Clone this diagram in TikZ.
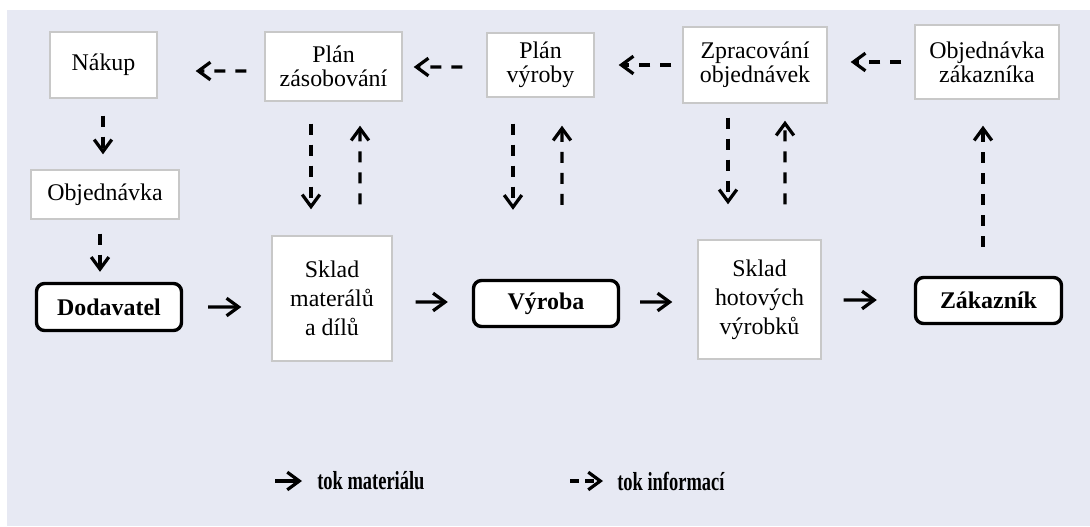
\documentclass[tikz,border=0pt]{standalone}
\usepackage{fontspec}
\setmainfont{Liberation Serif}
\newfontfamily\legendfont{Liberation Serif}[FakeStretch=0.71]
\usetikzlibrary{arrows.meta}
\definecolor{pagebg}{HTML}{E7E9F3}
\definecolor{boxline}{HTML}{C8C8C8}
\newlength\px
\setlength\px{0.025cm}

\begin{document}
\begin{tikzpicture}[
  x=0.025cm, y=-0.025cm,
  plan/.style={draw=boxline, line width=1pt, fill=white, align=center, inner sep=0pt, font=\fontsize{17}{17}\selectfont},
  stock/.style={plan, font=\fontsize{17}{20.5}\selectfont},
  party/.style={draw=black, line width=2.4pt, rounded corners=0.2cm, fill=white, inner sep=0pt, font=\fontsize{17}{17}\selectfont\bfseries},
  mat/.style={-{Straight Barb[length=3mm,width=4.4mm]}, line width=2.3pt},
  info/.style={mat, dash pattern=on 0.275cm off 0.25cm},
  legend/.style={anchor=west, inner sep=0pt, font=\fontsize{18.5}{18.5}\legendfont\bfseries},
]
% page
\fill[white] (0,0) rectangle (1090,526);
\fill[pagebg] (7,10) rectangle (1090,526);

% planning row
\node[plan, minimum width=107\px, minimum height=66\px] (nakup) at (103.5,65) {Nákup};
\node[plan, minimum width=137\px, minimum height=69\px] (zas) at (333.5,66.5) {Plán\\zásobování};
\node[plan, minimum width=107\px, minimum height=64\px] (vyroby) at (540.5,65) {Plán\\výroby};
\node[plan, minimum width=144\px, minimum height=76\px] (zprac) at (755,65) {Zpracování\\objednávek};
\node[plan, minimum width=144\px, minimum height=74\px] (objzak) at (987,62) {Objednávka\\zákazníka};
\node[plan, minimum width=148\px, minimum height=49\px] (objed) at (105,194.5) {Objednávka};

% material row
\node[party, minimum width=145\px, minimum height=47\px] (dodav) at (109,307) {Dodavatel};
\node[stock, minimum width=120\px, minimum height=125\px] (skladmat) at (332,298.5) {Sklad\\materálů\\a dílů};
\node[party, minimum width=145\px, minimum height=46\px] (vyroba) at (546,303.5) {Výroba};
\node[stock, minimum width=123\px, minimum height=119\px] (skladhot) at (759.5,299.5) {Sklad\\hotových\\výrobků};
\node[party, minimum width=146\px, minimum height=46\px] (zakaz) at (988.5,300.5) {Zákazník};

% information flow
\draw[info, shorten <=18\px, shorten >=38\px] ([yshift=-4.5\px]zas.west) -- ([yshift=-6\px]nakup.east);
\draw[info, shorten <=24\px, shorten >=11\px] ([yshift=-2\px]vyroby.west) -- ([yshift=-0.5\px]zas.east);
\draw[info, shorten <=11\px, shorten >=24\px] (zprac.west) -- (vyroby.east);
\draw[info, shorten <=13\px, shorten >=23\px] (objzak.west) -- ([yshift=3\px]zprac.east);
\draw[info, shorten <=17\px, shorten >=15\px] ([xshift=-0.5\px]nakup.south) -- ([xshift=-2\px]objed.north);
\draw[info, shorten <=14\px, shorten >=10\px] ([xshift=-5\px]objed.south) -- ([xshift=-9\px]dodav.north);
\draw[info, shorten <=22\px, shorten >=26\px] ([xshift=-22.5\px]zas.south) -- ([xshift=-21\px]skladmat.north);
\draw[info, shorten <=31\px, shorten >=24\px] ([xshift=28\px]skladmat.north) -- ([xshift=26.5\px]zas.south);
\draw[info, shorten <=26\px, shorten >=69\px] ([xshift=-27.5\px]vyroby.south) -- ([xshift=-33\px]vyroba.north);
\draw[info, shorten <=74\px, shorten >=28\px] ([xshift=16\px]vyroba.north) -- ([xshift=21.5\px]vyroby.south);
\draw[info, shorten <=14\px, shorten >=35\px] ([xshift=-27\px]zprac.south) -- ([xshift=-31.5\px]skladhot.north);
\draw[info, shorten <=35\px, shorten >=17\px] ([xshift=25.5\px]skladhot.north) -- ([xshift=30\px]zprac.south);
\draw[info, shorten <=29\px, shorten >=26\px] ([xshift=-5.5\px]zakaz.north) -- ([xshift=-4\px]objzak.south);

% material flow
\draw[mat, shorten <=25\px, shorten >=30\px] (dodav.east) -- ([yshift=-8.5\px]skladmat.west);
\draw[mat, shorten <=23\px, shorten >=24\px] ([yshift=-3.5\px]skladmat.east) -- ([yshift=1.5\px]vyroba.west);
\draw[mat, shorten <=20\px, shorten >=25\px] ([yshift=1.5\px]vyroba.east) -- ([yshift=-2.5\px]skladhot.west);
\draw[mat, shorten <=22\px, shorten >=37\px] ([yshift=-0.5\px]skladhot.east) -- ([yshift=0.5\px]zakaz.west);

% legend
\coordinate (matkey) at (275,481);
\node[legend] (legmat) at (317,481) {tok materiálu};
\draw[mat, shorten >=15\px] (matkey) -- (legmat.west);
\coordinate (infkey) at (570,481);
\node[legend] (leginf) at (617,481) {tok informací};
\draw[mat, dash pattern=on 0.225cm off 0.15cm, shorten >=14\px] (infkey) -- (leginf.west);
\end{tikzpicture}
\end{document}
